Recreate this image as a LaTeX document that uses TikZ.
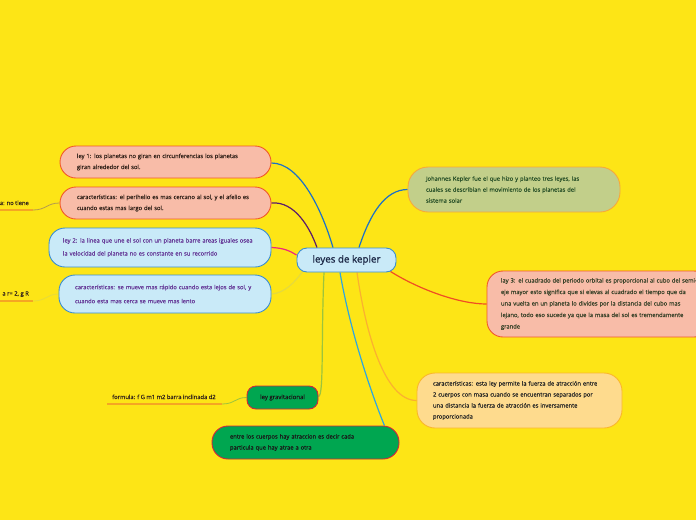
\documentclass[tikz,border=0pt]{standalone}
\usepackage{fontspec}
\setmainfont{Open Sans}
\newfontfamily\bxf[FakeBold=0.4]{Open Sans}
\newfontfamily\kepf[FakeBold=1.2]{Open Sans}
\usetikzlibrary{calc,backgrounds}
\newcommand\myl[1]{\mbox{#1}}
\definecolor{bg}{RGB}{253,229,22}
\definecolor{salmon}{RGB}{248,188,168}
\definecolor{salmonb}{RGB}{241,90,41}
\definecolor{lblue}{RGB}{201,234,248}
\definecolor{lblueb}{RGB}{59,142,208}
\definecolor{olive}{RGB}{194,207,138}
\definecolor{oliveb}{RGB}{247,169,58}
\definecolor{lorange}{RGB}{254,219,142}
\definecolor{lorangeb}{RGB}{251,183,43}
\definecolor{gbox}{RGB}{0,166,80}
\definecolor{gboxb}{RGB}{212,36,60}
\definecolor{navy}{RGB}{28,40,70}
\definecolor{dbrown}{RGB}{50,34,26}
\definecolor{purp}{RGB}{100,55,150}
\definecolor{dgreen}{RGB}{40,80,40}
\definecolor{dolive}{RGB}{55,65,40}
\definecolor{cblue}{RGB}{28,112,200}
\definecolor{cpurp}{RGB}{91,28,107}
\definecolor{cpink}{RGB}{240,40,122}
\definecolor{cpale}{RGB}{230,218,60}
\definecolor{cred}{RGB}{240,78,35}
\definecolor{corange}{RGB}{251,176,48}
\definecolor{cygreen}{RGB}{156,196,60}
\definecolor{clblue}{RGB}{46,166,224}
\definecolor{ctan}{RGB}{179,154,80}
\definecolor{uline}{RGB}{245,166,35}
\begin{document}
\begin{tikzpicture}[x=1pt,y=-1pt,
  box/.style={draw, line width=0.9pt, rounded corners=16pt, inner sep=0pt, align=left},
  small/.style={font=\bxf\fontsize{5.8}{11}\selectfont},
  conn/.style={line width=1.2pt},
  lconn/.style={line width=0.8pt},
  freetxt/.style={inner sep=0pt, font=\bxf\fontsize{5.8}{7}\selectfont, text=dbrown},
  uln/.style={line width=1.2pt, draw=uline}]
\useasboundingbox (0,0) rectangle (696,520);
\clip (0,0) rectangle (696,520);

\node[box, fill=lblue, draw=lblueb, rounded corners=10pt, minimum width=99pt, minimum height=24pt, text=navy, align=center, font=\kepf\fontsize{9.8}{11}\selectfont] (kep) at (346.5,260) {leyes de kepler};

\node[box, small, fill=salmon, draw=salmonb, text=dbrown, minimum width=211pt, minimum height=32pt, text width=177pt] (l1) at (165.5,162) {\myl{ley 1: los planetas no giran en circunferencias los planetas}\\\myl{giran alrededor del sol.}};
\node[box, small, fill=salmon, draw=salmonb, text=dbrown, minimum width=211pt, minimum height=32pt, text width=177pt] (c1) at (165.5,203) {\myl{características: el perihelio es mas cercano al sol, y el afelio es}\\\myl{cuando estas mas largo del sol.}};
\node[box, fill=lblue, draw=lblueb, text=purp, minimum width=222pt, minimum height=39pt, text width=194pt, font=\bxf\fontsize{5.8}{13}\selectfont] (l2) at (160,247.5) {\myl{ley 2: la linea que une el sol con un planeta barre areas iguales osea}\\\myl{la velocidad del planeta no es constante en su recorrido}};
\node[box, fill=lblue, draw=lblueb, text=purp, minimum width=212pt, minimum height=38pt, text width=180pt, font=\bxf\fontsize{5.8}{14}\selectfont] (c2) at (165,294) {\myl{características: se mueve mas rápido cuando esta lejos de sol, y}\\\myl{cuando esta mas cerca se mueve mas lento}};
\node[box, small, fill=olive, draw=oliveb, text=dgreen, minimum width=212pt, minimum height=45pt, text width=176pt, rounded corners=20pt] (joh) at (514,189.5) {\myl{Johannes Kepler fue el que hizo y planteo tres leyes, las}\\\myl{cuales se describian el movimiento de los planetas del}\\\myl{sistema solar}};
\node[box, fill=salmon, draw=salmonb, text=dolive, minimum width=223pt, minimum height=66pt, text width=195pt, font=\bxf\fontsize{5.8}{11.5}\selectfont] (l3) at (598.5,304) {\myl{lay 3: el cuadrado del periodo orbital es proporcional al cubo del semi-}\\\myl{eje mayor esto significa que si elevas al cuadrado el tiempo que da}\\\myl{una vuelta en un planeta lo divides por la distancia del cubo mas}\\\myl{lejano, todo eso sucede ya que la masa del sol es tremendamente}\\\myl{grande}};
\node[box, small, fill=lorange, draw=lorangeb, text=black!85, minimum width=205pt, minimum height=55pt, text width=173pt, rounded corners=18pt] (c3) at (519.5,400.5) {\myl{características: esta ley permite la fuerza de atracción entre}\\\myl{2 cuerpos con masa cuando se encuentran separados por}\\\myl{una distancia la fuerza de atracción es inversamente}\\\myl{proporcionada}};
\node[box, fill=gbox, draw=gboxb, text=black!90, minimum width=71pt, minimum height=23pt, rounded corners=9pt, align=center, font=\bxf\fontsize{6}{7}\selectfont] (grav) at (282.5,397.5) {ley gravitacional};
\node[box, small, fill=gbox, draw=gboxb, text=black!90, minimum width=187pt, minimum height=33pt, text width=151pt] (entre) at (305.5,442.5) {\myl{entre los cuerpos hay atraccion es decir cada}\\\myl{particula que hay atrae a otra}};

% free texts
\node[freetxt, anchor=base east] (fa) at (29,205) {a: no tiene};
\coordinate (fau) at (33,210);
\coordinate (fas) at (-2,210);
\node[freetxt, anchor=base east] (fb) at (29,295.5) {a r= 2, g R};
\coordinate (fbu) at (33,301);
\coordinate (fbs) at (-2,301);
\node[freetxt, anchor=base west] (fc) at (112,399) {formula: f G m1 m2 barra inclinada d2};
\coordinate (fcu) at (222,404);
\coordinate (fcs) at (107,404);

\begin{pgfonlayer}{background}
\fill[bg] (0,0) rectangle (696,520);
\draw[conn, cblue] ($(l1.east)+(0,1)$) .. controls (300,163) and (322,210) .. ($(kep.north)+(-13.5,0)$);
\draw[conn, cpurp] (c1.east) .. controls (295,201) and (310,228) .. ($(kep.north)+(-29.5,0)$);
\draw[conn, cpink] (l2.east) .. controls (284,248) and (290,251) .. ($(kep.west)+(0,-5)$);
\draw[conn, cpale] (c2.east) .. controls (285,293) and (295,282) .. ($(kep.south west)+(6,-1)$);
\draw[conn, cblue] ($(kep.north)+(12.5,0)$) .. controls (370,214) and (385,189.5) .. (joh.west);
\draw[conn, cred] ($(kep.south east)+(-6,-1)$) .. controls (420,290) and (460,304) .. (l3.west);
\draw[conn, corange] ($(kep.south)+(10.5,0)$) .. controls (366,335) and (385,400.5) .. (c3.west);
\draw[conn, cygreen] ($(kep.south)+(-22.5,0)$) .. controls (321,340) and (324,396) .. ($(grav.east)+(0,-1)$);
\draw[conn, clblue] ($(kep.south)+(-6.5,0)$) .. controls (350,330) and (370,390) .. ($(entre.north east)+(-15,0)$);
\draw[uln] (fas) -- (fau);
\draw[uln] (fbs) -- (fbu);
\draw[uln] (fcs) -- (fcu);
\draw[lconn, ctan] (fau) .. controls (46,210) and (47,203) .. (c1.west);
\draw[lconn, cpale] (fbu) .. controls (46,301) and (47,294) .. (c2.west);
\draw[lconn, cygreen] (fcu) .. controls (235,404) and (235,397.5) .. (grav.west);
\end{pgfonlayer}
\end{tikzpicture}
\end{document}
